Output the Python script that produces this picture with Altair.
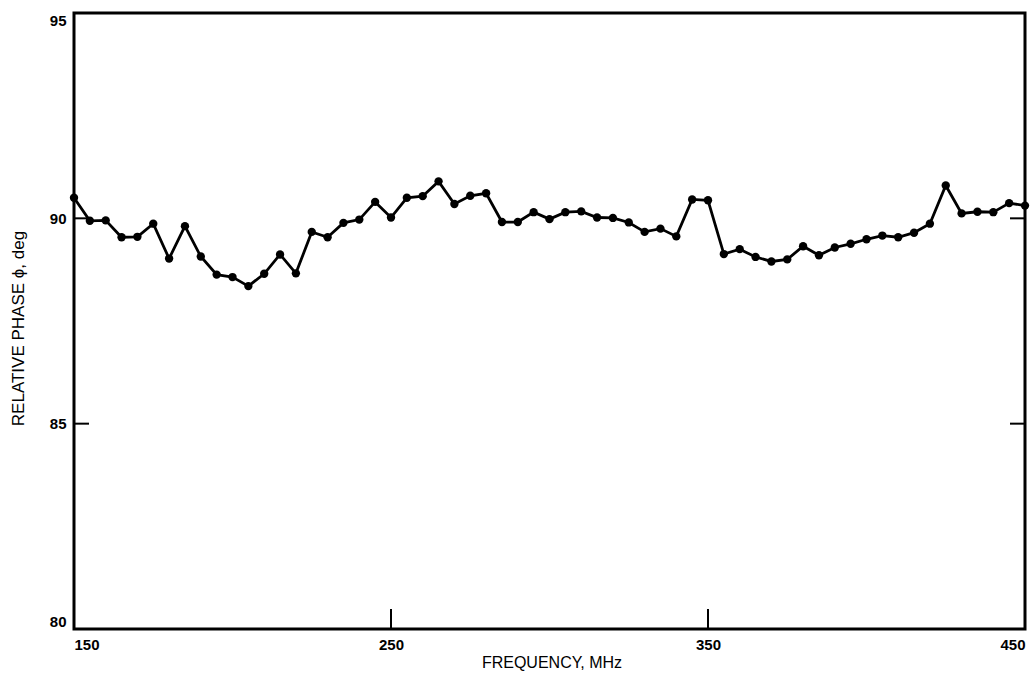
import altair as alt
import pandas as pd

freq = [150, 155, 160, 165, 170, 175, 180, 185, 190, 195,
        200, 205, 210, 215, 220, 225, 230, 235, 240, 245,
        250, 255, 260, 265, 270, 275, 280, 285, 290, 295,
        300, 305, 310, 315, 320, 325, 330, 335, 340, 345,
        350, 355, 360, 365, 370, 375, 380, 385, 390, 395,
        400, 405, 410, 415, 420, 425, 430, 435, 440, 445, 450]
phase = [90.50, 89.94, 89.95, 89.54, 89.55, 89.87, 89.02, 89.81, 89.07, 88.63,
         88.57, 88.35, 88.65, 89.12, 88.66, 89.67, 89.54, 89.89, 89.97, 90.40,
         90.02, 90.50, 90.54, 90.90, 90.35, 90.55, 90.61, 89.91, 89.91, 90.15,
         89.98, 90.15, 90.17, 90.02, 90.01, 89.90, 89.67, 89.75, 89.56, 90.46,
         90.44, 89.13, 89.25, 89.06, 88.95, 89.00, 89.32, 89.10, 89.29, 89.38,
         89.49, 89.58, 89.54, 89.65, 89.87, 90.80, 90.12, 90.16, 90.15, 90.37, 90.31]

x_ticks = [150, 250, 350, 450]
y_ticks = [80, 85, 90, 95]
x_inner_ticks = [250, 350]
y_inner_ticks = [85, 90]

W, H = 951, 616
FONT = "Liberation Sans, DejaVu Sans"

df = pd.DataFrame({"freq": freq, "phase": phase})
xs = alt.Scale(domain=[150, 450], nice=False, zero=False)
ys = alt.Scale(domain=[80, 95], nice=False, zero=False)

x_axis = alt.Axis(values=x_ticks, title="FREQUENCY, MHz", grid=False, ticks=False,
                  domain=False, labelFlush=True, labelPadding=8, labelFontSize=15,
                  labelFontWeight="bold", labelFont=FONT, labelColor="black",
                  titleFont=FONT, titleFontSize=16, titleFontWeight="normal",
                  titleColor="black", titleY=33, titleX=W / 2 + 2, titleBaseline="middle")
y_axis = alt.Axis(values=y_ticks, title="RELATIVE PHASE \u03d5, deg", grid=False, ticks=False,
                  domain=False, labelFlush=True, labelPadding=8, labelFontSize=15,
                  labelFontWeight="bold", labelFont=FONT, labelColor="black",
                  titleFont=FONT, titleFontSize=17, titleFontWeight="normal",
                  titleColor="black", titleX=-56, titleY=315, titleAngle=-90,
                  titleAlign="center", titleBaseline="middle")

base = alt.Chart(df)
line = base.mark_line(color="black", strokeWidth=2.8).encode(
    x=alt.X("freq:Q", scale=xs, axis=x_axis),
    y=alt.Y("phase:Q", scale=ys, axis=y_axis),
)
pts = base.mark_circle(color="black", opacity=1, size=70).encode(
    x=alt.X("freq:Q", scale=xs),
    y=alt.Y("phase:Q", scale=ys),
)

yt = pd.DataFrame({"v": y_inner_ticks})
xt = pd.DataFrame({"v": x_inner_ticks})
left_ticks = alt.Chart(yt).mark_rule(color="black", strokeWidth=2).encode(
    y=alt.Y("v:Q", scale=ys), x=alt.value(0), x2=alt.value(15))
right_ticks = alt.Chart(yt).mark_rule(color="black", strokeWidth=2).encode(
    y=alt.Y("v:Q", scale=ys), x=alt.value(W - 15), x2=alt.value(W))
bottom_ticks = alt.Chart(xt).mark_rule(color="black", strokeWidth=2).encode(
    x=alt.X("v:Q", scale=xs), y=alt.value(H - 20), y2=alt.value(H))

chart = alt.layer(line, pts, left_ticks, right_ticks, bottom_ticks).properties(
    width=W, height=H,
    autosize=alt.AutoSizeParams(type="none"),
    padding={"left": 74, "top": 13, "right": 7, "bottom": 50},
    background="white",
).configure_view(stroke="black", strokeWidth=3)

chart.save("out.html", embed_options={"renderer": "svg", "actions": False})
